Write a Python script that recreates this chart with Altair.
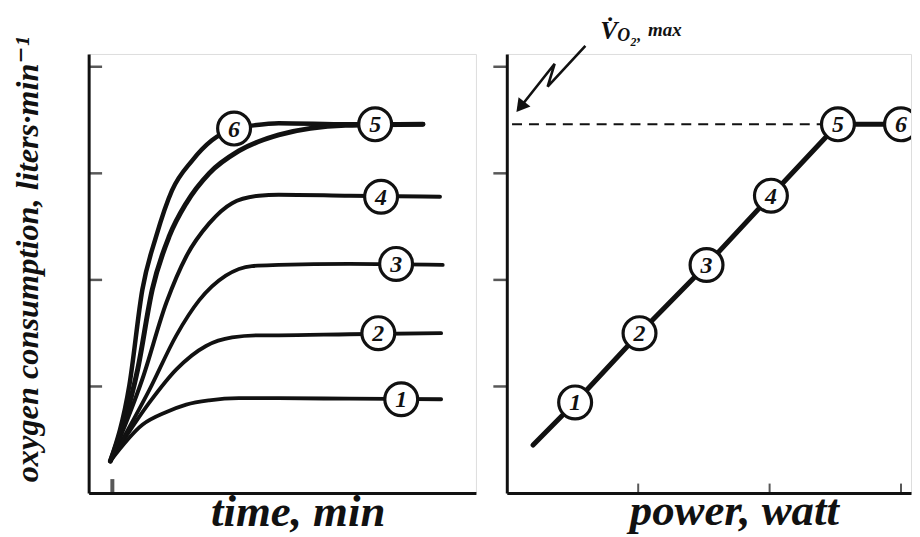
import altair as alt
import pandas as pd

# ---------------- data ----------------
# Left panel: oxygen uptake vs time for six work loads (curve number 1..6)
curve1_t = [-0.05, 0.76, 1.37, 1.87, 2.45, 3.20, 4.21, 6.00, 8.32]
curve1_y = [0.30, 0.64, 0.76, 0.83, 0.87, 0.89, 0.89, 0.885, 0.88]
curve2_t = [-0.05, 0.94, 1.62, 2.37, 3.03, 3.71, 4.21, 6.00, 8.32]
curve2_y = [0.30, 0.85, 1.16, 1.38, 1.46, 1.48, 1.48, 1.49, 1.50]
curve3_t = [-0.05, 0.94, 1.62, 2.20, 2.87, 3.53, 4.21, 6.00, 8.36]
curve3_y = [0.30, 0.97, 1.48, 1.81, 2.04, 2.13, 2.14, 2.15, 2.14]
curve4_t = [-0.05, 0.76, 1.37, 1.87, 2.45, 3.03, 3.71, 4.21, 6.00, 8.29]
curve4_y = [0.30, 1.07, 1.79, 2.22, 2.53, 2.72, 2.79, 2.80, 2.79, 2.78]
curve5_t = [-0.05, 0.64, 1.01, 1.44, 1.87, 2.45, 3.20, 4.21, 5.90, 7.86]
curve5_y = [0.30, 1.16, 1.91, 2.41, 2.72, 3.00, 3.21, 3.36, 3.45, 3.46]
curve6_t = [-0.05, 0.43, 0.76, 1.11, 1.51, 2.02, 2.52, 3.08, 3.58, 4.21, 5.97, 7.86]
curve6_y = [0.30, 1.01, 1.91, 2.41, 2.84, 3.12, 3.31, 3.42, 3.45, 3.47, 3.46, 3.46]
curve_width = [3.8, 3.8, 3.8, 4.0, 5.0, 4.5]

label_left_t = [7.31, 6.73, 7.18, 6.80, 6.65, 3.08]
label_left_y = [0.88, 1.50, 2.15, 2.78, 3.46, 3.42]
labels = ["1", "2", "3", "4", "5", "6"]

# Right panel: steady-state oxygen uptake vs power
power_x = [0.20, 0.52, 1.01, 1.52, 2.01, 2.52, 3.00]
power_y = [0.45, 0.85, 1.50, 2.14, 2.79, 3.46, 3.46]
vo2max = 3.46

y_ticks = [1, 2, 3, 4]
left_x_ticks = [0]
right_x_ticks = [1, 2, 3]

# annotation: zig-zag arrow pointing at the VO2max level, and its label
bolt_x = [0.598, 0.311, 0.364, 0.104]
bolt_y = [4.196, 3.813, 4.028, 3.623]
note_text = ["V\u0307", "O", "2", ",", "max"]
note_x = [0.712, 0.841, 0.941, 0.992, 1.075]
note_y = [4.262, 4.243, 4.196, 4.243, 4.290]
note_size = [26, 18, 12, 16, 19]

# ---------------- styling ----------------
FONT = "Liberation Serif"
INK = "#111111"
XL_MIN, XL_MAX = -0.6, 9.2
XR_MIN, XR_MAX = 0.0, 3.076
Y_MIN, Y_MAX = 0.0, 4.12

curves = []
for k, (ts, vs) in enumerate(
    [(curve1_t, curve1_y), (curve2_t, curve2_y), (curve3_t, curve3_y),
     (curve4_t, curve4_y), (curve5_t, curve5_y), (curve6_t, curve6_y)], start=1):
    for i, (t, v) in enumerate(zip(ts, vs)):
        curves.append({"curve": k, "i": i, "x": t, "y": v, "w": curve_width[k - 1]})
df_curves = pd.DataFrame(curves)
df_left_lab = pd.DataFrame({"x": label_left_t, "y": label_left_y, "lab": labels})
df_power = pd.DataFrame({"x": power_x, "y": power_y, "i": list(range(len(power_x)))})
df_right_lab = df_power.iloc[1:].assign(lab=labels)
df_yt_left = pd.DataFrame({"x": [XL_MIN] * len(y_ticks), "y": y_ticks})
df_yt_right = pd.DataFrame({"x": [XR_MIN] * len(y_ticks), "y": y_ticks})
df_xt_left = pd.DataFrame({"x": left_x_ticks, "y": [Y_MIN] * len(left_x_ticks)})
df_xt_right = pd.DataFrame({"x": right_x_ticks, "y": [Y_MIN] * len(right_x_ticks)})
df_dash = pd.DataFrame({"x": [0.04], "x2": [power_x[5]], "y": [vo2max]})
df_bolt = pd.DataFrame({"x": bolt_x, "y": bolt_y, "i": list(range(len(bolt_x)))})
df_head = pd.DataFrame({"x": [bolt_x[-1]], "y": [bolt_y[-1]]})
df_note = pd.DataFrame({"x": note_x, "y": note_y, "t": note_text, "fs": note_size})

title_style = dict(titleFont=FONT + ", DejaVu Serif", titleFontStyle="italic",
                   titleFontWeight="bold", titleColor=INK)
base_axis = dict(ticks=False, labels=False, grid=False, domainColor=INK, domainWidth=3)

YTITLE = "oxygen consumption, liters\u00b7min\u207b\u00b9"
ax_left_x = alt.Axis(title="time, min", titleFontSize=45, titleX=210, titleY=33,
                     titleAlign="center", titleBaseline="alphabetic",
                     **base_axis, **title_style)
ax_left_y = alt.Axis(title=YTITLE, titleFontSize=32.5,
                     titleX=-51, titleY=206, titleAngle=270, titleAlign="center",
                     titleBaseline="alphabetic", **base_axis, **title_style)
ax_right_x = alt.Axis(title="power, watt", titleFontSize=45, titleX=228, titleY=32,
                      titleAlign="center", titleBaseline="alphabetic",
                      **base_axis, **title_style)
ax_right_y = alt.Axis(title=None, **base_axis)

sxl = alt.Scale(domain=[XL_MIN, XL_MAX], nice=False, zero=False)
sxr = alt.Scale(domain=[XR_MIN, XR_MAX], nice=False, zero=False)
sy = alt.Scale(domain=[Y_MIN, Y_MAX], nice=False, zero=False)


def XL():
    return alt.X("x:Q", scale=sxl, axis=ax_left_x, title="time, min")


def XR():
    return alt.X("x:Q", scale=sxr, axis=ax_right_x, title="power, watt")


def YL():
    return alt.Y("y:Q", scale=sy, axis=ax_left_y, title=YTITLE)


def YR():
    return alt.Y("y:Q", scale=sy, axis=ax_right_y, title=None)


circle_style = dict(shape="circle", filled=True, fill="white", stroke=INK,
                    strokeWidth=3.2, size=1090, opacity=1)
digit_style = dict(font=FONT, fontSize=24, fontStyle="italic", fontWeight="bold",
                   color=INK, align="center", baseline="middle", dy=1)

# ---------------- left panel ----------------
l_lines = alt.Chart(df_curves).mark_line(
    color=INK, interpolate="monotone", strokeCap="round"
).encode(x=XL(), y=YL(), detail="curve:N", order="i:Q",
         strokeWidth=alt.StrokeWidth("w:Q", scale=None, legend=None))
l_circ = alt.Chart(df_left_lab).mark_point(**circle_style).encode(x=XL(), y=YL())
l_text = alt.Chart(df_left_lab).mark_text(**digit_style).encode(x=XL(), y=YL(), text="lab:N")
l_yt = alt.Chart(df_yt_left).mark_tick(
    orient="horizontal", size=13, thickness=2.5, color=INK, xOffset=7
).encode(x=XL(), y=YL())
l_xt = alt.Chart(df_xt_left).mark_tick(
    orient="vertical", size=14, thickness=4, color=INK, yOffset=-7
).encode(x=XL(), y=YL())

left = alt.layer(l_yt, l_xt, l_lines, l_circ, l_text).properties(width=389, height=441)

# ---------------- right panel ----------------
r_dash = alt.Chart(df_dash).mark_rule(
    color=INK, strokeWidth=2, strokeDash=[10, 7]
).encode(x=XR(), x2="x2:Q", y=YR())
r_line = alt.Chart(df_power).mark_line(
    color=INK, strokeWidth=5, strokeCap="round"
).encode(x=XR(), y=YR(), order="i:Q")
r_circ = alt.Chart(df_right_lab).mark_point(clip=True, **circle_style).encode(x=XR(), y=YR())
r_text = alt.Chart(df_right_lab).mark_text(**digit_style).encode(x=XR(), y=YR(), text="lab:N")
r_yt = alt.Chart(df_yt_right).mark_tick(
    orient="horizontal", size=13, thickness=2.5, color=INK, xOffset=-7
).encode(x=XR(), y=YR())
r_xt = alt.Chart(df_xt_right).mark_tick(
    orient="vertical", size=9, thickness=2, color=INK, yOffset=-5
).encode(x=XR(), y=YR())
r_bolt = alt.Chart(df_bolt).mark_line(
    color=INK, strokeWidth=2.6
).encode(x=XR(), y=YR(), order="i:Q")
r_head = alt.Chart(df_head).mark_point(
    shape="triangle-up", angle=218, filled=True, size=230, color=INK, opacity=1
).encode(x=XR(), y=YR())
r_note = alt.Chart(df_note).mark_text(
    font=FONT, fontStyle="italic", fontWeight="bold", color=INK,
    align="left", baseline="alphabetic"
).encode(x=XR(), y=YR(), text="t:N", size=alt.Size("fs:Q", scale=None, legend=None))

right = alt.layer(r_yt, r_xt, r_dash, r_line, r_circ, r_text, r_bolt, r_head, r_note
                  ).properties(width=406, height=441)

chart = alt.hconcat(left, right, spacing=31, bounds="flush").properties(
    padding={"left": 3, "top": 8, "right": 0, "bottom": 4}
).configure_view(stroke=None).configure(background="white")

chart.save("out.html", embed_options={"renderer": "svg", "actions": False})
